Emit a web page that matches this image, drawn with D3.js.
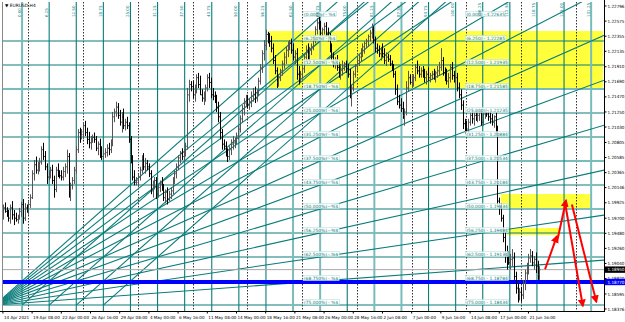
<!DOCTYPE html>
<html><head><meta charset="utf-8">
<script src="https://cdn.jsdelivr.net/npm/d3@7"></script>
<style>body{margin:0;background:#fff}svg{display:block}text{font-family:"DejaVu Sans",Arial,sans-serif}</style>
</head><body><svg id="c" width="625" height="322"></svg>
<script>
// ---------- data ----------
const symbol = "EURUSD,H4";
const priceTicks = [1.22796,1.22575,1.22355,1.22135,1.21910,1.21690,1.21470,1.21250,1.21030,1.20805,1.20585,1.20365,1.20146,1.19925,1.19700,1.19480,1.19260,1.19040,1.18820,1.18595,1.18376];
const timeLabels = ["14 Apr 2021","19 Apr 08:00","22 Apr 00:00","26 Apr 16:00","29 Apr 08:00","4 May 00:00","6 May 16:00","11 May 08:00","14 May 00:00","18 May 16:00","21 May 08:00","26 May 00:00","28 May 16:00","2 Jun 08:00","7 Jun 00:00","9 Jun 16:00","14 Jun 08:00","17 Jun 00:00","21 Jun 16:00"];
const timeLabelBars = [-14,2,18,34,50,66,82,98,114,130,146,162,178,194,210,226,242,258,274];
const weekSeparators = [0,30,60,90,120,150,180,210,240,270,300];
const firstBar = -14;
// H4 bars: [open, high, low, close]
const bars = [
[1.1975,1.1990,1.1968,1.1985],[1.1985,1.1993,1.1978,1.1980],[1.1980,1.1986,1.1972,1.1976],[1.1976,1.1982,1.1965,1.1970],[1.1970,1.1990,1.1962,1.1985],[1.1985,1.1995,1.1968,1.1975],[1.1975,1.1982,1.1960,1.1970],[1.1970,1.1978,1.1965,1.1968],[1.1968,1.1975,1.1962,1.1972],[1.1972,1.1985,1.1968,1.1980],[1.1980,1.1994,1.1972,1.1990],[1.1990,1.1998,1.1962,1.1970],[1.1970,1.1992,1.1966,1.1985],[1.1985,1.1990,1.1978,1.1982],
[1.1982,1.1995,1.1975,1.1990],[1.1990,1.2005,1.1985,1.2000],[1.2000,1.2040,1.1998,1.2035],[1.2035,1.2055,1.2025,1.2048],[1.2048,1.2060,1.2035,1.2040],[1.2040,1.2052,1.2034,1.2045],
[1.2045,1.2058,1.2038,1.2052],[1.2052,1.2075,1.2048,1.2070],[1.2070,1.2080,1.2055,1.2060],[1.2060,1.2068,1.2040,1.2045],[1.2045,1.2050,1.2020,1.2030],[1.2030,1.2040,1.2025,1.2035],
[1.2035,1.2045,1.2028,1.2040],[1.2040,1.2048,1.2020,1.2025],[1.2025,1.2032,1.2000,1.2012],[1.2012,1.2045,1.2008,1.2040],[1.2040,1.2050,1.2030,1.2035],[1.2035,1.2040,1.2028,1.2032],
[1.2032,1.2040,1.2025,1.2030],[1.2030,1.2045,1.2025,1.2038],[1.2038,1.2050,1.2030,1.2045],[1.2045,1.2070,1.2035,1.2060],[1.2060,1.2065,1.2000,1.2010],[1.2010,1.2022,1.1995,1.2018],
[1.2018,1.2030,1.2012,1.2025],[1.2025,1.2045,1.2020,1.2040],[1.2040,1.2075,1.2035,1.2070],[1.2070,1.2100,1.2065,1.2095],[1.2095,1.2102,1.2080,1.2090],[1.2090,1.2100,1.2085,1.2096],
[1.2092,1.2110,1.2085,1.2105],[1.2105,1.2112,1.2090,1.2095],[1.2095,1.2102,1.2078,1.2085],[1.2085,1.2096,1.2072,1.2080],[1.2080,1.2090,1.2070,1.2085],[1.2085,1.2092,1.2080,1.2088],
[1.2088,1.2095,1.2080,1.2085],[1.2085,1.2090,1.2068,1.2072],[1.2072,1.2082,1.2062,1.2078],[1.2078,1.2086,1.2058,1.2065],[1.2065,1.2075,1.2055,1.2060],[1.2060,1.2070,1.2056,1.2064],
[1.2064,1.2072,1.2058,1.2066],[1.2066,1.2078,1.2060,1.2072],[1.2072,1.2080,1.2062,1.2070],[1.2070,1.2085,1.2065,1.2080],[1.2080,1.2125,1.2075,1.2118],[1.2118,1.2130,1.2110,1.2125],
[1.2125,1.2140,1.2118,1.2132],[1.2132,1.2138,1.2115,1.2120],[1.2120,1.2128,1.2105,1.2110],[1.2110,1.2125,1.2095,1.2118],[1.2118,1.2130,1.2100,1.2105],[1.2105,1.2115,1.2098,1.2110],
[1.2110,1.2118,1.2100,1.2105],[1.2105,1.2110,1.2080,1.2085],[1.2085,1.2090,1.2050,1.2055],[1.2055,1.2062,1.2025,1.2030],[1.2030,1.2040,1.2018,1.2022],[1.2022,1.2030,1.2018,1.2025],
[1.2022,1.2035,1.2015,1.2030],[1.2030,1.2045,1.2025,1.2040],[1.2040,1.2062,1.2035,1.2055],[1.2055,1.2065,1.2040,1.2045],[1.2045,1.2058,1.2035,1.2050],[1.2050,1.2055,1.2040,1.2045],
[1.2045,1.2050,1.2030,1.2035],[1.2035,1.2040,1.2005,1.2010],[1.2010,1.2025,1.2000,1.2018],[1.2018,1.2030,1.2012,1.2025],[1.2025,1.2030,1.1998,1.2005],[1.2005,1.2020,1.2000,1.2015],
[1.2015,1.2025,1.2008,1.2020],[1.2020,1.2030,1.2010,1.2012],[1.2012,1.2020,1.1995,1.2000],[1.2000,1.2012,1.1992,1.2008],[1.2008,1.2015,1.1990,1.1998],[1.1998,1.2010,1.1995,1.2005],
[1.2005,1.2015,1.1998,1.2010],[1.2010,1.2030,1.2005,1.2025],[1.2025,1.2040,1.2020,1.2035],[1.2035,1.2050,1.2028,1.2045],[1.2045,1.2062,1.2040,1.2058],[1.2058,1.2068,1.2050,1.2065],
[1.2065,1.2072,1.2055,1.2060],[1.2060,1.2070,1.2052,1.2068],[1.2068,1.2080,1.2060,1.2075],[1.2075,1.2160,1.2070,1.2150],[1.2150,1.2172,1.2140,1.2165],[1.2165,1.2170,1.2155,1.2162],
[1.2162,1.2170,1.2145,1.2150],[1.2150,1.2165,1.2140,1.2160],[1.2160,1.2180,1.2152,1.2175],[1.2175,1.2182,1.2160,1.2165],[1.2165,1.2178,1.2150,1.2150],[1.2150,1.2158,1.2140,1.2145],
[1.2145,1.2155,1.2135,1.2150],[1.2150,1.2165,1.2140,1.2160],[1.2160,1.2180,1.2155,1.2175],[1.2175,1.2182,1.2160,1.2168],[1.2168,1.2175,1.2145,1.2150],[1.2150,1.2160,1.2142,1.2148],
[1.2148,1.2155,1.2138,1.2145],[1.2145,1.2150,1.2125,1.2132],[1.2132,1.2140,1.2110,1.2118],[1.2118,1.2125,1.2085,1.2095],[1.2095,1.2100,1.2070,1.2078],[1.2078,1.2085,1.2070,1.2075],
[1.2075,1.2082,1.2060,1.2065],[1.2065,1.2072,1.2052,1.2060],[1.2060,1.2075,1.2055,1.2070],[1.2070,1.2085,1.2062,1.2078],[1.2078,1.2090,1.2070,1.2080],[1.2080,1.2088,1.2072,1.2082],
[1.2082,1.2095,1.2078,1.2090],[1.2090,1.2105,1.2085,1.2100],[1.2100,1.2120,1.2095,1.2115],[1.2115,1.2135,1.2110,1.2130],[1.2130,1.2145,1.2120,1.2138],[1.2138,1.2150,1.2132,1.2142],
[1.2142,1.2150,1.2130,1.2135],[1.2135,1.2145,1.2128,1.2140],[1.2140,1.2155,1.2132,1.2148],[1.2148,1.2160,1.2140,1.2150],[1.2150,1.2162,1.2138,1.2145],[1.2145,1.2158,1.2140,1.2152],
[1.2152,1.2175,1.2148,1.2170],[1.2170,1.2195,1.2165,1.2190],[1.2190,1.2215,1.2182,1.2210],[1.2210,1.2230,1.2200,1.2222],[1.2222,1.2245,1.2215,1.2238],[1.2238,1.2242,1.2225,1.2230],
[1.2230,1.2240,1.2220,1.2228],[1.2228,1.2236,1.2212,1.2218],[1.2218,1.2225,1.2195,1.2200],[1.2200,1.2208,1.2180,1.2185],[1.2185,1.2190,1.2160,1.2168],[1.2168,1.2180,1.2162,1.2175],
[1.2175,1.2188,1.2170,1.2185],[1.2185,1.2200,1.2178,1.2195],[1.2195,1.2212,1.2188,1.2205],[1.2205,1.2220,1.2195,1.2215],[1.2215,1.2228,1.2205,1.2222],[1.2222,1.2230,1.2215,1.2225],
[1.2225,1.2232,1.2210,1.2215],[1.2215,1.2225,1.2200,1.2205],[1.2205,1.2215,1.2195,1.2210],[1.2210,1.2218,1.2172,1.2180],[1.2180,1.2192,1.2165,1.2175],[1.2175,1.2185,1.2168,1.2180],
[1.2180,1.2192,1.2172,1.2188],[1.2188,1.2210,1.2182,1.2205],[1.2205,1.2222,1.2198,1.2215],[1.2215,1.2225,1.2200,1.2208],[1.2208,1.2220,1.2200,1.2215],[1.2215,1.2225,1.2208,1.2220],
[1.2220,1.2235,1.2215,1.2230],[1.2230,1.2250,1.2225,1.2245],[1.2245,1.2262,1.2238,1.2255],[1.2255,1.2266,1.2245,1.2250],[1.2250,1.2258,1.2235,1.2240],[1.2240,1.2248,1.2232,1.2245],
[1.2245,1.2255,1.2238,1.2250],[1.2250,1.2256,1.2235,1.2240],[1.2240,1.2248,1.2228,1.2235],[1.2235,1.2240,1.2212,1.2218],[1.2218,1.2225,1.2200,1.2205],[1.2205,1.2212,1.2190,1.2195],
[1.2195,1.2205,1.2188,1.2200],[1.2200,1.2208,1.2185,1.2190],[1.2190,1.2198,1.2175,1.2180],[1.2180,1.2195,1.2172,1.2188],[1.2188,1.2200,1.2178,1.2192],[1.2192,1.2198,1.2185,1.2195],
[1.2195,1.2200,1.2182,1.2188],[1.2188,1.2195,1.2175,1.2180],[1.2180,1.2188,1.2145,1.2150],[1.2150,1.2165,1.2133,1.2160],[1.2160,1.2185,1.2155,1.2180],[1.2180,1.2195,1.2175,1.2192],
[1.2192,1.2205,1.2185,1.2200],[1.2200,1.2210,1.2192,1.2205],[1.2205,1.2218,1.2198,1.2212],[1.2212,1.2225,1.2205,1.2220],[1.2220,1.2228,1.2210,1.2225],[1.2225,1.2232,1.2218,1.2228],
[1.2228,1.2238,1.2220,1.2235],[1.2235,1.2245,1.2228,1.2240],[1.2240,1.2254,1.2232,1.2245],[1.2245,1.2250,1.2225,1.2230],[1.2230,1.2235,1.2212,1.2218],[1.2218,1.2225,1.2210,1.2215],
[1.2215,1.2222,1.2205,1.2210],[1.2210,1.2220,1.2200,1.2215],[1.2215,1.2225,1.2205,1.2210],[1.2210,1.2218,1.2195,1.2200],[1.2200,1.2212,1.2192,1.2205],[1.2205,1.2210,1.2198,1.2202],
[1.2202,1.2208,1.2192,1.2195],[1.2195,1.2200,1.2185,1.2190],[1.2190,1.2195,1.2175,1.2180],[1.2180,1.2185,1.2150,1.2158],[1.2158,1.2165,1.2135,1.2140],[1.2140,1.2150,1.2130,1.2135],
[1.2135,1.2145,1.2125,1.2130],[1.2130,1.2140,1.2115,1.2120],[1.2120,1.2130,1.2105,1.2125],[1.2125,1.2170,1.2120,1.2160],[1.2160,1.2185,1.2155,1.2175],[1.2175,1.2180,1.2165,1.2168],
[1.2168,1.2178,1.2160,1.2170],[1.2170,1.2180,1.2162,1.2175],[1.2175,1.2195,1.2170,1.2190],[1.2190,1.2200,1.2180,1.2185],[1.2185,1.2192,1.2175,1.2180],[1.2180,1.2190,1.2175,1.2185],
[1.2185,1.2192,1.2175,1.2180],[1.2180,1.2188,1.2168,1.2175],[1.2175,1.2185,1.2165,1.2180],[1.2180,1.2190,1.2170,1.2175],[1.2175,1.2182,1.2168,1.2178],[1.2178,1.2185,1.2172,1.2180],
[1.2180,1.2188,1.2172,1.2176],[1.2176,1.2185,1.2168,1.2182],[1.2182,1.2192,1.2175,1.2185],[1.2185,1.2198,1.2178,1.2190],[1.2190,1.2218,1.2185,1.2200],[1.2200,1.2205,1.2178,1.2182],
[1.2182,1.2190,1.2170,1.2178],[1.2178,1.2188,1.2165,1.2170],[1.2170,1.2182,1.2160,1.2175],[1.2175,1.2195,1.2168,1.2190],[1.2190,1.2198,1.2172,1.2178],[1.2178,1.2185,1.2168,1.2172],
[1.2172,1.2180,1.2165,1.2175],[1.2175,1.2182,1.2155,1.2160],[1.2160,1.2168,1.2145,1.2150],[1.2150,1.2158,1.2128,1.2135],[1.2135,1.2142,1.2100,1.2108],[1.2108,1.2115,1.2093,1.2105],
[1.2105,1.2112,1.2095,1.2100],[1.2100,1.2115,1.2095,1.2110],[1.2110,1.2125,1.2105,1.2120],[1.2120,1.2128,1.2108,1.2115],[1.2115,1.2125,1.2105,1.2120],[1.2120,1.2128,1.2112,1.2118],
[1.2118,1.2125,1.2110,1.2120],[1.2120,1.2130,1.2112,1.2125],[1.2125,1.2130,1.2105,1.2110],[1.2110,1.2125,1.2105,1.2122],[1.2122,1.2130,1.2115,1.2125],[1.2125,1.2130,1.2118,1.2122],
[1.2122,1.2128,1.2112,1.2118],[1.2118,1.2125,1.2108,1.2115],[1.2115,1.2122,1.2105,1.2110],[1.2110,1.2120,1.2102,1.2118],[1.2118,1.2125,1.2090,1.2100],[1.2100,1.2105,1.1990,1.1995],
[1.1995,1.2000,1.1975,1.1985],[1.1985,1.1992,1.1965,1.1970],[1.1970,1.1975,1.1935,1.1942],[1.1942,1.1950,1.1905,1.1915],[1.1915,1.1930,1.1895,1.1910],[1.1910,1.1922,1.1902,1.1905],
[1.1905,1.1918,1.1895,1.1910],[1.1910,1.1925,1.1900,1.1912],[1.1912,1.1920,1.1880,1.1885],[1.1885,1.1892,1.1860,1.1868],[1.1868,1.1875,1.1847,1.1860],[1.1860,1.1868,1.1850,1.1862],
[1.1862,1.1870,1.1848,1.1858],[1.1858,1.1880,1.1852,1.1875],[1.1875,1.1895,1.1865,1.1890],[1.1890,1.1905,1.1880,1.1895],[1.1895,1.1918,1.1888,1.1912],[1.1912,1.1925,1.1905,1.1915],
[1.1915,1.1922,1.1900,1.1905],[1.1905,1.1915,1.1895,1.1910],[1.1910,1.1920,1.1890,1.1900],[1.1900,1.1908,1.1880,1.1888],[1.1888,1.1900,1.1880,1.1895]
];
// Fibonacci levels (percent) between fibHigh and fibLow
const fibLevels = [0,6.25,12.5,18.75,25,31.25,37.5,43.75,50,56.25,62.5,68.75,75];
const fibHigh = 1.22635, fibLow = 1.17033;
const fibThick = [18.75,37.5];
const fibMidBar = 151, fibRightBar = 240;
// grid verticals (bar positions)
const gridBars = [-3.5,11.35,26.2,41.05,55.9,70.75,85.6,100.45,115.3,130.15,145,159.85,174.7,189.55,204.4,219.25,234.1,248.95,263.8,278.65,293.5,308.35];
const gridThick = [-3.5,145,159.85,189.55,204.4,308.35];
// Fibonacci fan: origin (bar, level %) to target bar, one ray per level
const fanOriginBar = -18.35, fanOriginLevel = 75, fanTargetBar = 159.85;
const fanLevels = [0,6.25,12.5,18.75,25,31.25,37.5,43.75,50,56.25,62.5,68.75];
// parallel 1x1 lines: start bars on the 75% level, parallel to the 0% fan ray
const parallelStarts = [-3.5,11.35,26.2,41.05];
// rectangles [bar1, price1, bar2, price2]
const rects = [[131.8,1.22431,314.8,1.21585],[258.9,1.20053,307.7,1.19849],[262.2,1.19557,291.3,1.19455]];
// red arrows [bar1, price1, bar2, price2]
const arrows = [[283.1,1.18956,289.6,1.19438],[289.6,1.19350,294.6,1.19960],[294.2,1.19900,303.8,1.18420],[297.8,1.19900,311.2,1.18480]];
const supportLine = 1.18770, bidPrice = 1.18950;

// ---------- drawing ----------
const L=2, R=604, T=2, B=311;
const svg = d3.select("#c");
const x = d3.scaleLinear().domain([-14.5,315.4]).range([L,R]);
const y = d3.scaleLinear().domain([1.18332,1.22854]).range([312,T]);
const teal="#0a7c7a", tealLight="#78bdbb";
svg.append("defs").append("clipPath").attr("id","pc").append("rect").attr("x",L).attr("y",T).attr("width",R-L).attr("height",B-T);
const g = svg.append("g").attr("clip-path","url(#pc)");
const fibPrice = p => fibHigh - p/100*(fibHigh-fibLow);

g.selectAll(".rc").data(rects).enter().append("rect")
 .attr("x",d=>x(d[0])).attr("y",d=>y(d[1])).attr("width",d=>x(d[2])-x(d[0])).attr("height",d=>y(d[3])-y(d[1]))
 .attr("fill","#ffff3c");

g.selectAll(".ws").data(weekSeparators).enter().append("line")
 .attr("x1",d=>Math.round(x(d))+0.5).attr("x2",d=>Math.round(x(d))+0.5).attr("y1",T).attr("y2",B)
 .attr("stroke","#000").attr("stroke-width",0.8).attr("stroke-dasharray","1.5,1.5");

g.selectAll(".fl").data(fibLevels.filter(p=>p>0)).enter().append("line")
 .attr("x1",L).attr("x2",R).attr("y1",d=>y(fibPrice(d))).attr("y2",d=>y(fibPrice(d)))
 .attr("stroke",d=>fibThick.includes(d)?tealLight:teal).attr("stroke-width",d=>fibThick.includes(d)?2:1.1);

g.selectAll(".gv").data(gridBars).enter().append("line")
 .attr("x1",d=>x(d)).attr("x2",d=>x(d)).attr("y1",T).attr("y2",B)
 .attr("stroke",d=>gridThick.includes(d)?tealLight:teal).attr("stroke-width",d=>gridThick.includes(d)?2:1.1);

const ext = 340;
const p0 = fibPrice(fanOriginLevel);
const diag = [];
fanLevels.forEach(l=>{
  const s = (fibPrice(l)-p0)/(fanTargetBar-fanOriginBar);
  diag.push([fanOriginBar,p0,ext,p0+s*(ext-fanOriginBar)]);
});
const s0 = (fibPrice(0)-p0)/(fanTargetBar-fanOriginBar);
parallelStarts.forEach(b=>diag.push([b,p0,ext,p0+s0*(ext-b)]));
g.selectAll(".gf").data(diag).enter().append("line")
 .attr("x1",d=>x(d[0])).attr("y1",d=>y(d[1])).attr("x2",d=>x(d[2])).attr("y2",d=>y(d[3]))
 .attr("stroke",teal).attr("stroke-width",1.1);

g.append("line").attr("x1",L).attr("x2",R).attr("y1",y(bidPrice)).attr("y2",y(bidPrice)).attr("stroke","#a8a8a8").attr("stroke-width",1);
g.append("line").attr("x1",L).attr("x2",R).attr("y1",y(supportLine)).attr("y2",y(supportLine)).attr("stroke","#0000ff").attr("stroke-width",4);

const bg = g.append("g");
bars.forEach((d,i)=>{
  const cx = Math.round(x(firstBar+i))+0.5;
  const col = d[3]>=d[0] ? "#555" : "#000";
  bg.append("line").attr("x1",cx).attr("x2",cx).attr("y1",y(d[1])).attr("y2",y(d[2])).attr("stroke",col).attr("stroke-width",1);
  bg.append("line").attr("x1",cx-1).attr("x2",cx).attr("y1",y(d[0])).attr("y2",y(d[0])).attr("stroke",col).attr("stroke-width",1);
  bg.append("line").attr("x1",cx).attr("x2",cx+1).attr("y1",y(d[3])).attr("y2",y(d[3])).attr("stroke",col).attr("stroke-width",1);
});

// level labels with white tag background
const fmt = d3.format(".3f");
function tag(px, py, txt){
  const t = g.append("text").attr("x",px).attr("y",py).attr("font-size",4.4).attr("fill",teal).text(txt);
  const w = t.node().getComputedTextLength();
  g.insert("rect", function(){return t.node();}).attr("x",px-1).attr("y",py-4.2).attr("width",w+2).attr("height",5.4)
   .attr("fill","#fff").attr("fill-opacity",0.85).attr("stroke","#9fcfcf").attr("stroke-width",0.4);
}
fibLevels.forEach(d=>tag(x(fibMidBar), y(fibPrice(d))-1.5, "("+fmt(d)+"%) - %$"));
fibLevels.forEach(d=>tag(x(fibRightBar), y(fibPrice(d))-1.5, "("+fmt(d)+") - "+fibPrice(d).toFixed(5)));

g.selectAll(".gl").data(gridBars).enter().append("text")
 .attr("transform",d=>`translate(${x(d)-1.5},17) rotate(-90)`).attr("font-size",4).attr("fill",teal)
 .text((d,i)=>(i*6.25).toFixed(2));

svg.append("defs").append("marker").attr("id","ah").attr("viewBox","0 0 10 10").attr("refX",8).attr("refY",5)
 .attr("markerWidth",4).attr("markerHeight",4).attr("orient","auto")
 .append("path").attr("d","M0,0L10,5L0,10z").attr("fill","#ff0000");
g.selectAll(".ar").data(arrows).enter().append("line")
 .attr("x1",d=>x(d[0])).attr("y1",d=>y(d[1])).attr("x2",d=>x(d[2])).attr("y2",d=>y(d[3]))
 .attr("stroke","#ff0000").attr("stroke-width",2).attr("marker-end","url(#ah)");

svg.append("line").attr("x1",L+0.5).attr("x2",L+0.5).attr("y1",T).attr("y2",B).attr("stroke","#888");
svg.append("line").attr("x1",R+0.5).attr("x2",R+0.5).attr("y1",0).attr("y2",B+1).attr("stroke","#000");
svg.append("line").attr("x1",0).attr("x2",R+1).attr("y1",B+0.5).attr("y2",B+0.5).attr("stroke","#000");

const ax = svg.append("g");
priceTicks.forEach(p=>{
  ax.append("line").attr("x1",R).attr("x2",R+2.5).attr("y1",y(p)).attr("y2",y(p)).attr("stroke","#000");
  ax.append("text").attr("x",R+3.5).attr("y",y(p)+1.6).attr("font-size",4.3).attr("textLength",17).attr("lengthAdjust","spacingAndGlyphs").attr("fill","#000").text(p.toFixed(5));
});
[[bidPrice,"#000"],[supportLine,"#0000ff"]].forEach(([p,c])=>{
  ax.append("rect").attr("x",R+1).attr("y",y(p)-3.2).attr("width",20).attr("height",6.4).attr("fill",c);
  ax.append("text").attr("x",R+3.5).attr("y",y(p)+1.6).attr("font-size",4.3).attr("textLength",17).attr("lengthAdjust","spacingAndGlyphs").attr("fill","#fff").text(p.toFixed(5));
});

timeLabels.forEach((t,i)=>{
  const px = x(timeLabelBars[i]);
  svg.append("line").attr("x1",px).attr("x2",px).attr("y1",B).attr("y2",B+2.5).attr("stroke","#000");
  svg.append("text").attr("x",px+1).attr("y",318.5).attr("font-size",4.1).attr("fill","#000").text(t);
});

svg.append("text").attr("x",5).attr("y",6.5).attr("font-size",4.4).attr("fill","#000").text("\u25BC "+symbol);
</script></body></html>
